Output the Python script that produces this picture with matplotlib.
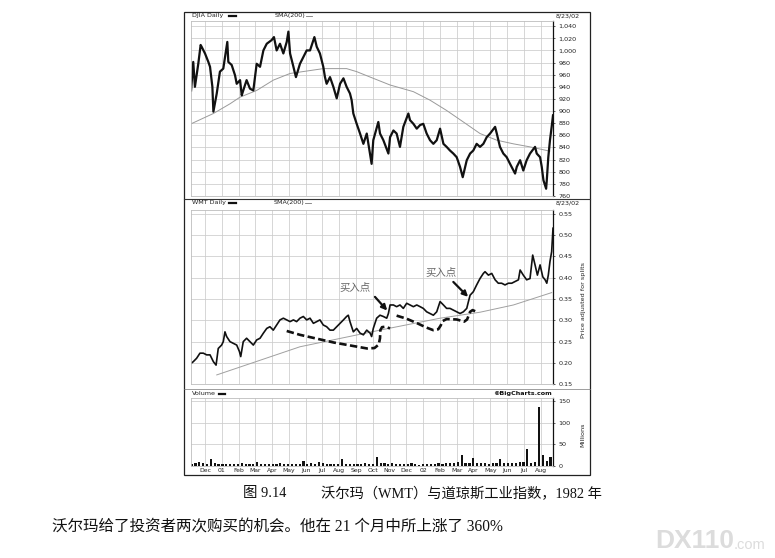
import numpy as np
import matplotlib
matplotlib.use('Agg')
import matplotlib.pyplot as plt
from matplotlib.patches import Rectangle
from matplotlib.lines import Line2D

# ---------------- data (x = months since 1 Dec 2000) ----------------
months = ["Dec", "01", "Feb", "Mar", "Apr", "May", "Jun", "Jul", "Aug", "Sep", "Oct",
          "Nov", "Dec", "02", "Feb", "Mar", "Apr", "May", "Jun", "Jul", "Aug"]

djia_x = [-0.83, -0.70, -0.60, -0.40, -0.26, -0.20, 0.00, 0.20, 0.30, 0.44, 0.50, 0.70, 0.89,
          1.09, 1.33, 1.39, 1.59, 1.79, 1.89, 2.09, 2.19, 2.28, 2.48, 2.68, 2.88, 3.08, 3.28,
          3.48, 3.68, 3.97, 4.11, 4.27, 4.47, 4.67, 4.87, 4.97, 5.07, 5.27, 5.42, 5.66, 5.86,
          6.06, 6.26, 6.52, 6.66, 6.85, 7.05, 7.15, 7.25, 7.45, 7.65, 7.85, 8.05, 8.25, 8.44,
          8.64, 8.74, 8.84, 9.04, 9.24, 9.44, 9.64, 9.93, 10.03, 10.33, 10.43, 10.63, 10.93,
          11.03, 11.23, 11.42, 11.62, 11.82, 12.12, 12.22, 12.42, 12.62, 12.82, 13.01, 13.21,
          13.41, 13.61, 13.81, 14.01, 14.21, 14.40, 14.60, 14.80, 15.00, 15.20, 15.36, 15.60,
          15.80, 15.99, 16.19, 16.39, 16.59, 16.79, 16.99, 17.29, 17.39, 17.58, 17.78, 17.98,
          18.18, 18.48, 18.58, 18.78, 18.97, 19.17, 19.37, 19.67, 19.77, 19.97, 20.07, 20.17,
          20.33, 20.37, 20.46, 20.56, 20.66, 20.74]
djia_v = [934, 981, 940, 978, 1009, 1006, 995, 981, 973, 940, 899, 929, 965,
          970, 1014, 981, 976, 959, 945, 951, 926, 934, 951, 937, 934, 978, 973,
          1000, 1011, 1017, 1022, 1000, 1011, 995, 1014, 1031, 995, 973, 956, 978, 989,
          1000, 1000, 1022, 1006, 995, 973, 956, 945, 956, 940, 921, 945, 954, 940,
          929, 918, 896, 879, 863, 846, 863, 813, 852, 882, 863, 852, 830,
          857, 868, 863, 841, 874, 896, 885, 879, 871, 877, 879, 863,
          852, 846, 852, 871, 846, 841, 835, 830, 824, 808, 791, 819,
          830, 835, 846, 841, 846, 857, 863, 874, 863, 841, 830, 824,
          813, 797, 808, 819, 802, 819, 830, 841, 830, 824, 808, 786,
          772, 786, 824, 852, 874, 893]

djia_sma_x = [-0.83, 0.50, 1.49, 2.09, 3.08, 4.07, 5.07, 6.06, 7.05, 8.44, 9.04, 10.03,
              11.03, 12.42, 13.41, 14.40, 15.40, 16.39, 17.39, 18.38, 19.37, 20.37, 20.55]
djia_sma_v = [879, 896, 912, 923, 934, 951, 962, 966, 970, 970, 965, 954,
              943, 932, 918, 901, 882, 863, 852, 846, 841, 835, 834]

wmt_x = [-0.83, -0.70, -0.50, -0.30, -0.10, 0.10, 0.30, 0.50, 0.66, 0.79, 0.89, 0.99, 1.09,
         1.19, 1.29, 1.49, 1.69, 1.89, 2.05, 2.13, 2.28, 2.48, 2.68, 2.88, 3.08, 3.28, 3.48,
         3.68, 3.87, 4.07, 4.27, 4.47, 4.67, 4.87, 5.07, 5.27, 5.46, 5.66, 5.86, 6.06, 6.26,
         6.46, 6.66, 6.85, 7.05, 7.25, 7.45, 7.65, 7.85, 8.05, 8.25, 8.44, 8.54, 8.64, 8.84,
         9.04, 9.24, 9.44, 9.64, 9.84, 9.93, 10.03, 10.23, 10.43, 10.63, 10.83, 10.93, 11.03,
         11.23, 11.42, 11.62, 11.82, 12.02, 12.22, 12.42, 12.62, 12.82, 13.01, 13.21, 13.41,
         13.61, 13.81, 14.01, 14.21, 14.40, 14.60, 14.80, 15.00, 15.20, 15.40, 15.60, 15.70,
         15.80, 15.99, 16.19, 16.39, 16.59, 16.69, 16.89, 17.09, 17.29, 17.48, 17.68, 17.88,
         18.08, 18.28, 18.48, 18.68, 18.78, 18.97, 19.17, 19.37, 19.53, 19.67, 19.81, 19.97,
         20.13, 20.27, 20.37, 20.46, 20.56, 20.66, 20.74]
wmt_v = [0.199, 0.203, 0.211, 0.223, 0.223, 0.219, 0.219, 0.203, 0.195, 0.234, 0.238, 0.242, 0.250,
         0.273, 0.262, 0.250, 0.246, 0.242, 0.227, 0.215, 0.250, 0.258, 0.250, 0.242, 0.254, 0.258, 0.270,
         0.281, 0.285, 0.277, 0.289, 0.301, 0.305, 0.301, 0.297, 0.301, 0.297, 0.305, 0.309, 0.301, 0.305,
         0.293, 0.297, 0.301, 0.289, 0.285, 0.277, 0.277, 0.285, 0.293, 0.301, 0.309, 0.312, 0.297, 0.273,
         0.281, 0.270, 0.266, 0.277, 0.270, 0.262, 0.281, 0.305, 0.312, 0.309, 0.305, 0.316, 0.336,
         0.336, 0.332, 0.336, 0.328, 0.340, 0.336, 0.332, 0.336, 0.332, 0.328, 0.320, 0.316,
         0.312, 0.320, 0.344, 0.336, 0.328, 0.328, 0.324, 0.320, 0.316, 0.320, 0.328, 0.344,
         0.359, 0.367, 0.383, 0.398, 0.410, 0.414, 0.406, 0.410, 0.395, 0.387, 0.387, 0.383,
         0.387, 0.387, 0.391, 0.395, 0.418, 0.406, 0.395, 0.398, 0.453, 0.430, 0.406, 0.430,
         0.402, 0.395, 0.387, 0.406, 0.438, 0.461, 0.516]

wmt_sma_x = [0.70, 5.66, 10.43, 14.01, 16.39, 18.38, 20.66]
wmt_sma_v = [0.172, 0.238, 0.277, 0.305, 0.319, 0.336, 0.365]

# hand-drawn dashed "base" curves
base1_x = [4.87, 5.66, 7.67, 9.66, 10.10, 10.35, 10.43, 10.45, 10.55, 10.75, 11.03]
base1_v = [0.275, 0.266, 0.248, 0.234, 0.235, 0.243, 0.258, 0.277, 0.284, 0.285, 0.281]
base2_x = [11.42, 12.0, 12.6, 13.2, 13.6, 13.9, 14.05, 14.15, 14.4, 15.0, 15.45, 15.62,
           15.72, 15.80, 15.95, 16.12]
base2_v = [0.311, 0.304, 0.294, 0.283, 0.277, 0.279, 0.288, 0.298, 0.303, 0.302, 0.297, 0.302,
           0.312, 0.320, 0.324, 0.321]

buy_label = "买入点"
buy_text_xy = [(8.94, 0.376), (14.06, 0.410)]
buy_arrow_from = [(10.13, 0.355), (14.80, 0.390)]
buy_arrow_to = [(10.86, 0.323), (15.68, 0.355)]

volume = [5, 7, 10, 6, 5, 15, 6, 4, 5, 4,
          5, 4, 4, 8, 4, 5, 4, 10, 5, 4,
          4, 5, 4, 8, 4, 5, 4, 5, 4, 12,
          5, 6, 5, 10, 6, 5, 4, 5, 5, 15,
          5, 4, 5, 4, 5, 6, 5, 4, 20, 6,
          7, 5, 8, 5, 4, 5, 4, 8, 4, 3,
          4, 5, 4, 5, 8, 5, 6, 7, 8, 10,
          25, 8, 6, 18, 7, 6, 8, 5, 6, 7,
          15, 6, 7, 8, 7, 9, 10, 40, 8, 10,
          135, 25, 12, 20]
volume_x = np.arange(len(volume)) * 0.23 - 0.8   # weekly positions

djia_ticks = list(range(760, 1041, 20))
wmt_ticks = [0.15, 0.20, 0.25, 0.30, 0.35, 0.40, 0.45, 0.50, 0.55]
vol_ticks = [0, 50, 100, 150]

caption1a = "图 9.14"
caption1b = "沃尔玛（WMT）与道琼斯工业指数，1982 年"
caption2 = "沃尔玛给了投资者两次购买的机会。他在 21 个月中所上涨了 360%"

# ---------------- figure ----------------
W, H = 775, 558
fig = plt.figure(figsize=(W / 100, H / 100), dpi=100)
fig.patch.set_facecolor('white')


def rect(x0, y0, x1, y1):
    return [x0 / W, 1 - y1 / H, (x1 - x0) / W, (y1 - y0) / H]


def ftext(x, y, s, **kw):
    kw.setdefault('va', 'center')
    return fig.text(x / W, 1 - y / H, s, **kw)


def fline(x0, x1, y0, y1, **kw):
    fig.add_artist(Line2D([x0 / W, x1 / W], [1 - y0 / H, 1 - y1 / H],
                          transform=fig.transFigure, **kw))


XL = (-0.834, 20.74)
ax1 = fig.add_axes(rect(191, 20.7, 553, 196))
ax2 = fig.add_axes(rect(191, 210, 553, 384.3))
ax3 = fig.add_axes(rect(191, 398.3, 553, 466))

small = dict(fontsize=4.6, color='#222222', family='DejaVu Sans')

for ax in (ax1, ax2, ax3):
    ax.set_xlim(*XL)
    ax.set_xticks(range(0, 21))
    ax.tick_params(axis='x', length=0, labelbottom=False)
    ax.grid(True, color='#cccccc', lw=0.55)
    ax.set_axisbelow(True)
    ax.yaxis.tick_right()
    ax.tick_params(axis='y', length=1.5, width=0.5, pad=2.5, labelsize=4.6,
                   colors='#222222', left=False)
    for s in ('left', 'top', 'bottom'):
        ax.spines[s].set_color('#bdbdbd')
        ax.spines[s].set_linewidth(0.6)
    ax.spines['right'].set_color('#111111')
    ax.spines['right'].set_linewidth(0.9)

# DJIA
ax1.set_ylim(760, 1049)
ax1.set_yticks(djia_ticks)
ax1.set_yticklabels([f"{v:,}" for v in djia_ticks])
ax1.plot(djia_sma_x, djia_sma_v, color='#9a9a9a', lw=0.7)
ax1.plot(djia_x, djia_v, color='#111111', lw=1.6)

# WMT
ax2.set_ylim(0.15, 0.5587)
ax2.set_yticks(wmt_ticks)
ax2.set_yticklabels([f"{v:.2f}" for v in wmt_ticks])
ax2.plot(wmt_sma_x, wmt_sma_v, color='#a0a0a0', lw=0.7)
ax2.plot(wmt_x, wmt_v, color='#111111', lw=1.2)
ax2.plot(base1_x, base1_v, color='#111111', lw=1.9, dashes=(2.8, 1.3),
         solid_capstyle='butt', dash_capstyle='butt')
ax2.plot(base2_x, base2_v, color='#111111', lw=1.9, dashes=(2.8, 1.3),
         solid_capstyle='butt', dash_capstyle='butt')
for (tx, ty), a0, a1 in zip(buy_text_xy, buy_arrow_from, buy_arrow_to):
    ax2.text(tx, ty, buy_label, ha='center', va='center', fontsize=7.5,
             color='#666666', family=['Noto Sans CJK SC'])
    ax2.annotate('', xy=a1, xytext=a0,
                 arrowprops=dict(arrowstyle='-|>', color='#111111', lw=1.6,
                                 mutation_scale=8, shrinkA=0, shrinkB=0))

# Volume
ax3.set_ylim(0, 156)
ax3.set_yticks(vol_ticks)
ax3.set_yticklabels([str(v) for v in vol_ticks])
ax3.bar(volume_x, volume, width=0.13, color='#111111', linewidth=0)
ax3.set_xticks(range(0, 21))
ax3.set_xticklabels(months)
ax3.tick_params(axis='x', labelbottom=True, labelsize=4.4, pad=1.2, colors='#222222')

# outer frame and separators
fig.add_artist(Rectangle((184 / W, 1 - 475 / H), (590 - 184) / W, (475 - 12) / H,
                         fill=False, lw=0.9, edgecolor='#222222',
                         transform=fig.transFigure))
fline(184, 590, 198.5, 198.5, color='#333333', lw=0.8)
fline(184, 590, 388.5, 388.5, color='#777777', lw=0.5)

# panel headers
ftext(192, 15.8, "DJIA Daily", **small)
fline(229, 236, 15.8, 15.8, color='#111', lw=1.6)
ftext(275, 15.8, "SMA(200)", **small)
fline(306, 312, 15.8, 15.8, color='#777', lw=0.6)
ftext(556, 15.8, "8/23/02", **small)

ftext(192, 202.8, "WMT Daily", **small)
fline(229, 236, 202.8, 202.8, color='#111', lw=1.6)
ftext(274, 202.8, "SMA(200)", **small)
fline(305, 311, 202.8, 202.8, color='#777', lw=0.6)
ftext(556, 203.3, "8/23/02", **small)

ftext(192, 393.5, "Volume", **small)
fline(219, 225, 393.5, 393.5, color='#111', lw=1.6)
ftext(552, 393.5, "©BigCharts.com", ha='right', fontsize=4.6, color='#111',
      family='DejaVu Sans', weight='bold')

ftext(583, 300, "Price adjusted for splits", rotation=90, ha='center', **small)
ftext(583, 435, "Millions", rotation=90, ha='center', **small)

# captions
cap_font = ['Liberation Serif', 'Noto Sans CJK SC']
ftext(243, 494, caption1a, fontsize=10.4, color='#111', family=cap_font)
ftext(321, 494, caption1b, fontsize=10.3, color='#111', family=cap_font)
ftext(52, 527, caption2, fontsize=11.2, color='#111', family=cap_font)

# watermark
ftext(655, 541, "DX110", fontsize=19, color='#dcdcdc', weight='bold',
      family='Liberation Sans')
ftext(734, 545, ".com", fontsize=10.5, color='#dcdcdc', family='Liberation Sans')

fig.savefig('out.png', dpi=100, facecolor='white')
